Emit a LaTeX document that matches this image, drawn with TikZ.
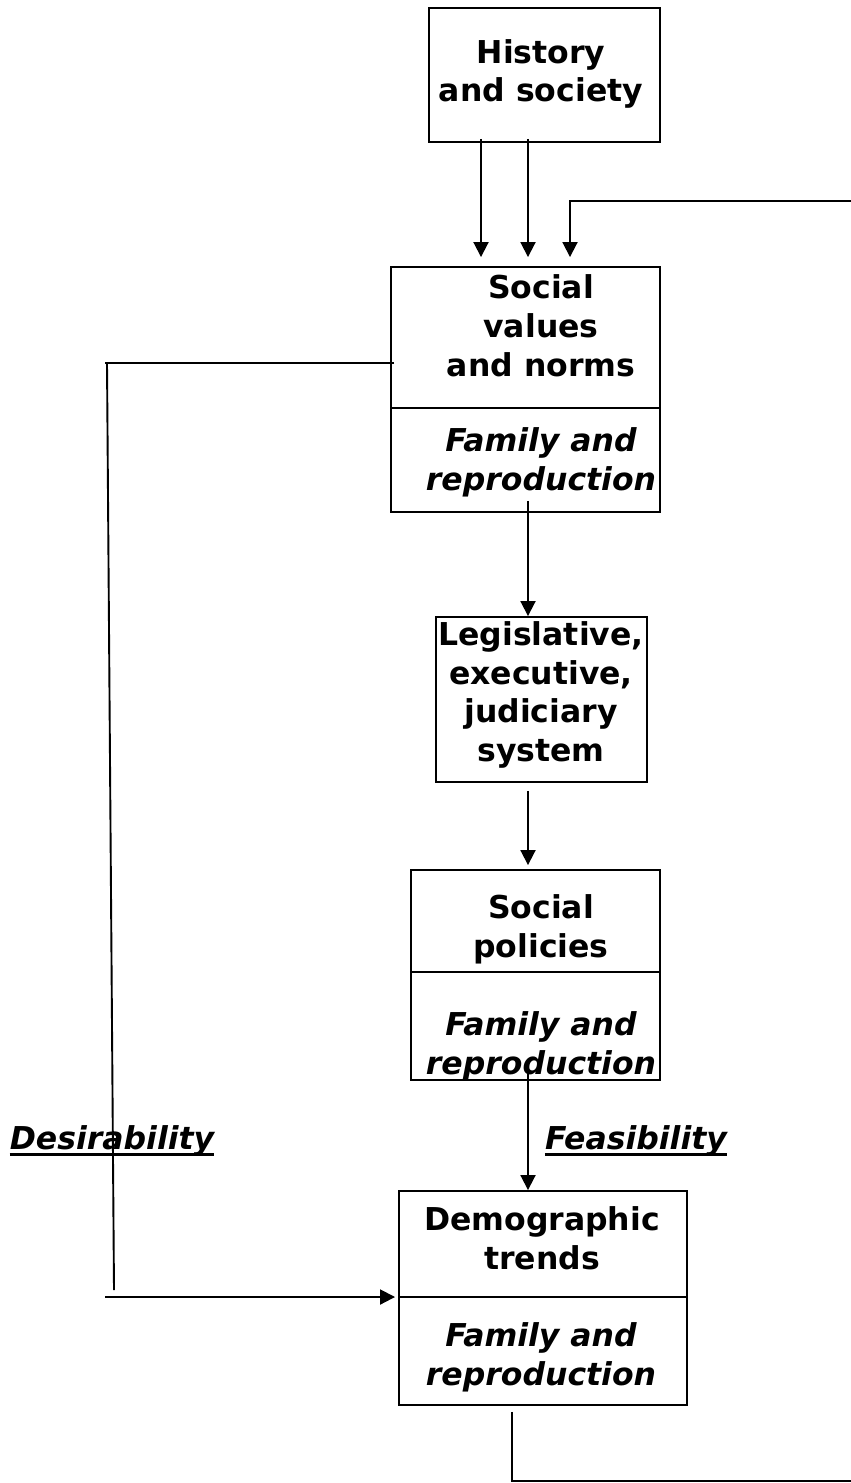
\documentclass[tikz,border=0pt]{standalone}
\usepackage{fontspec}
\setmainfont{DejaVu Sans}
\usetikzlibrary{arrows.meta}
\begin{document}
\begin{tikzpicture}[x=1pt,y=-1pt,
  boxst/.style={draw,line width=1.9pt,rectangle,inner sep=0pt},
  txt/.style={align=center,font=\fontsize{31.5}{38.8}\selectfont\bfseries,inner sep=0pt},
  itxt/.style={align=center,font=\fontsize{31.5}{38.8}\selectfont\bfseries\itshape,inner sep=0pt},
  ln/.style={line width=1.9pt},
  arr/.style={line width=1.9pt,-{Triangle[length=15pt,width=15pt]}}]
\useasboundingbox (0,0) rectangle (851,1483);
\fill[white] (0,0) rectangle (851,1483);
% boxes
\node[boxst,minimum width=231pt,minimum height=134pt] (hist) at (544.5,75) {};
\node[boxst,minimum width=269pt,minimum height=245pt] (soc) at (525.5,389.5) {};
\node[boxst,minimum width=211pt,minimum height=165pt] (leg) at (541.5,699.5) {};
\node[boxst,minimum width=249pt,minimum height=210pt] (pol) at (535.5,975) {};
\node[boxst,minimum width=288pt,minimum height=214pt] (dem) at (543,1298) {};
% dividers
\coordinate (sd) at (0,408);
\coordinate (pd) at (0,972);
\coordinate (dd) at (0,1297);
\draw[ln] (soc.west |- sd) -- (soc.east |- sd);
\draw[ln] (pol.west |- pd) -- (pol.east |- pd);
\draw[ln] (dem.west |- dd) -- (dem.east |- dd);
% texts
\node[txt] (histt) at (541,74) {History\\and society};
\node[txt] (soct) at (541,325.5) {Social\\values\\and norms};
\node[itxt] (socf) at (541,462.5) {Family and\\reproduction};
\node[txt] (legt) at (541,695) {Legislative,\\executive,\\judiciary\\system};
\node[txt] (polt) at (541,929.5) {Social\\policies};
\node[itxt] (polf) at (541,1046.5) {Family and\\reproduction};
\node[txt] (demt) at (542,1238.5) {Demographic\\trends};
\node[itxt] (demf) at (541,1357) {Family and\\reproduction};
\node[itxt] (feas) at (636,1141) {Feasibility};
\node[itxt] (desi) at (112,1141) {Desirability};
\draw[line width=2.6pt] ([yshift=-5pt]feas.base west) -- ([yshift=-5pt]feas.base east);
\draw[line width=2.6pt] ([yshift=-5pt]desi.base west) -- ([yshift=-5pt]desi.base east);
% arrows history -> social values
\draw[arr] ([xshift=-63.5pt,yshift=4pt]hist.south) -- ([xshift=-44.5pt,yshift=9pt]soc.north);
\draw[arr] ([xshift=-16.5pt,yshift=4pt]hist.south) -- ([xshift=2.5pt,yshift=9pt]soc.north);
\coordinate (rtop) at (851,201);
\draw[arr] (rtop) -| ([xshift=44.5pt,yshift=9pt]soc.north);
% chain
\draw[arr] ([xshift=2.5pt,yshift=12pt]soc.south) -- ([xshift=-13.5pt]leg.north);
\draw[arr] ([xshift=-13.5pt,yshift=-8pt]leg.south) -- ([xshift=-7.5pt,yshift=4pt]pol.north);
\draw[arr] ([xshift=-7.5pt,yshift=10pt]pol.south) -- ([xshift=-15pt]dem.north);
% desirability loop
\coordinate (dl1) at (105,363);
\coordinate (dv1) at (107,363);
\coordinate (dv2) at (114,1290);
\coordinate (dl2) at (105,1297);
\draw[ln] ([xshift=4pt]soc.west |- dl1) -- (dl1);
\draw[ln] (dv1) -- (dv2);
\draw[arr] (dl2) -- ([xshift=-3pt]dem.west |- dl2);
% bottom line
\coordinate (br) at (851,1481);
\draw[ln] ([xshift=-31pt,yshift=-6pt]dem.south) |- (br);
\end{tikzpicture}
\end{document}
